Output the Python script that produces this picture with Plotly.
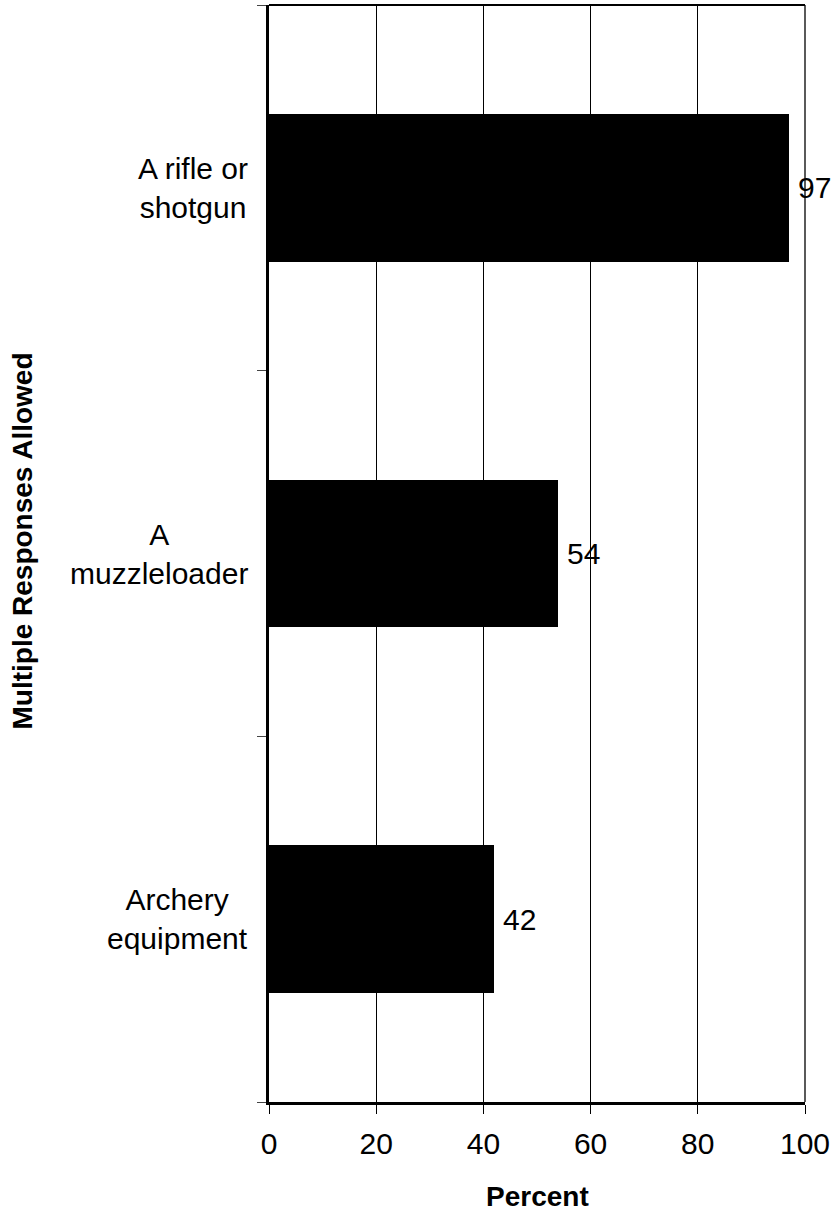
import plotly.graph_objects as go

# Survey categories (top to bottom) and percentages
categories = ["A rifle or<br>shotgun", "A<br>muzzleloader", "Archery<br>equipment"]
percent = [97, 54, 42]
x_ticks = [0, 20, 40, 60, 80, 100]

FONT = "Liberation Sans, Arial, sans-serif"
n = len(categories)
# category i occupies band [n-1-i, n-i] on a numeric y axis; bars sit at band centres
ypos = [n - 0.5 - i for i in range(n)]

fig = go.Figure()
fig.add_trace(go.Bar(
    x=percent, y=ypos, orientation="h",
    marker=dict(color="black", line=dict(width=0)),
    width=0.404, showlegend=False, hoverinfo="skip",
))

annotations = []
# value labels just past each bar end
for v, y in zip(percent, ypos):
    annotations.append(dict(
        x=v, y=y, xref="x", yref="y", text=str(v), showarrow=False,
        xanchor="left", yanchor="middle", xshift=7,
        font=dict(family=FONT, size=30, color="black"),
    ))
# category labels, centred lines, right edge near the axis
for c, y in zip(categories, ypos):
    annotations.append(dict(
        x=0, y=y, xref="paper", yref="y", text=c, showarrow=False,
        xanchor="right", yanchor="middle", xshift=-19, align="center",
        font=dict(family=FONT, size=30, color="black"),
    ))
# axis titles
plot_h = 1213 - 5 - 111
annotations.append(dict(
    x=0.5, y=-94 / plot_h, xref="paper", yref="paper", text="<b>Percent</b>",
    showarrow=False, xanchor="center", yanchor="middle",
    font=dict(family=FONT, size=28, color="black"),
))
annotations.append(dict(
    x=0, y=0.5, xref="paper", yref="paper", xshift=-247, yshift=12,
    text="<b>Multiple Responses Allowed</b>", textangle=-90,
    showarrow=False, xanchor="center", yanchor="middle",
    font=dict(family=FONT, size=28, color="black"),
))

fig.update_layout(
    width=835, height=1213,
    margin=dict(l=269, r=28, t=5, b=111),
    paper_bgcolor="white", plot_bgcolor="white",
    font=dict(family=FONT, size=30, color="black"),
    bargap=0,
    annotations=annotations,
    shapes=[
        dict(type="line", xref="paper", yref="paper", x0=0, x1=1, y0=1, y1=1,
             line=dict(color="black", width=2)),
        dict(type="line", xref="paper", yref="paper", x0=1, x1=1, y0=0, y1=1,
             line=dict(color="black", width=1.3)),
    ],
)
fig.update_traces(cliponaxis=False)
fig.update_xaxes(
    range=[0, 100], tickvals=x_ticks, ticktext=[str(t) for t in x_ticks],
    ticks="outside", ticklen=9, tickwidth=1, tickcolor="black",
    showgrid=True, gridcolor="black", gridwidth=1,
    showline=True, linecolor="black", linewidth=2.5,
    zeroline=False, tickfont=dict(family=FONT, size=30, color="black"),
    ticklabelstandoff=4, fixedrange=True,
)
fig.update_yaxes(
    range=[0, n], tickvals=list(range(n + 1)), showticklabels=False,
    ticks="outside", ticklen=9, tickwidth=1, tickcolor="#444",
    showgrid=False, showline=True, linecolor="black", linewidth=2.5,
    zeroline=False, fixedrange=True,
)

fig.write_html("out.html", config={"displayModeBar": False})
